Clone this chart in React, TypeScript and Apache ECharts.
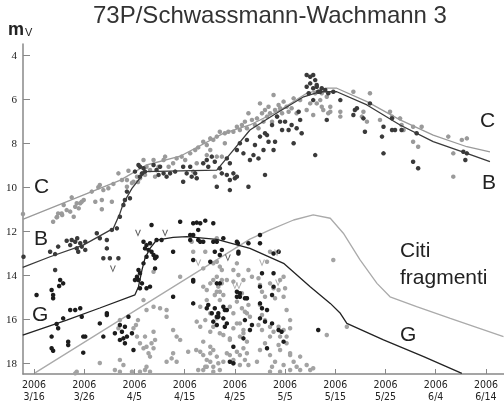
import React, { useEffect, useRef } from "react";
import * as echarts from "echarts";

// x = days since 2006-03-16, y = visual magnitude
const xTickDays = [0, 10, 20, 30, 40, 50, 60, 70, 80, 90];
const xTickLabels = ["3/16", "3/26", "4/5", "4/15", "4/25", "5/5", "5/15", "5/25", "6/4", "6/14"];
const yTicks = [4, 6, 8, 10, 12, 14, 16, 18];

const obsC = [
  [-2.2, 11.23], [4.6, 11.36], [5.6, 11.27], [7.5, 10.47], [5.9, 10.82], [6.5, 11.05], [5.5, 11.2], [7.2, 11.12],
  [8.2, 10.9], [9.2, 10.74], [9.9, 10.59], [8.9, 10.97], [7.9, 11.35], [4.5, 11.38], [11.5, 10.21], [12.8, 10.01],
  [13.8, 10.14], [14.8, 10.06], [15.8, 9.86], [16.8, 9.38], [17.5, 9.68], [18.5, 9.99], [18.8, 9.26], [19.8, 9.76],
  [20.5, 9.53], [21.1, 9.6], [21.8, 9.38], [13.5, 10.59], [13.5, 11.01], [15.5, 10.67], [3.8, 11.58], [4.8, 11.2],
  [8.5, 10.74], [9.5, 10.67], [12.2, 10.67], [13.1, 9.91], [18.5, 9.68], [19.5, 9.82], [20.7, 9.77],
  [21.8, 8.77], [22.4, 9.08], [23.8, 8.77], [24.8, 9.08], [25.8, 8.77], [26.1, 8.62], [26.8, 9.08], [27.7, 8.92],
  [28.4, 8.7], [29.4, 8.62], [30.1, 8.77], [31.1, 8.47], [32.1, 8.32], [32.7, 8.2], [33.7, 7.94], [34.4, 8.09],
  [35.1, 7.79], [35.7, 7.86], [36.4, 7.71], [37.0, 7.49], [38.0, 7.56], [38.7, 7.49], [39.7, 7.49], [40.4, 7.26],
  [41.0, 7.41], [41.4, 7.18], [42.0, 7.03], [42.4, 7.33], [42.7, 6.65], [43.4, 6.95], [44.0, 7.18], [44.4, 6.88],
  [44.7, 7.33], [45.0, 6.2], [45.4, 6.65], [45.7, 7.03], [46.0, 6.5], [46.4, 6.8], [46.7, 6.35], [47.0, 6.65],
  [47.4, 7.03], [47.7, 5.82], [48.0, 6.5], [48.4, 6.8], [48.7, 6.27], [49.0, 6.42], [49.4, 6.65], [49.7, 6.12],
  [50.3, 6.35], [50.7, 6.58], [51.3, 6.42], [51.7, 5.97], [52.3, 6.65], [53.0, 6.05], [54.3, 6.5], [55.0, 6.2],
  [55.6, 6.73], [56.3, 6.2], [57.0, 6.05], [57.6, 6.5], [59.0, 6.35], [59.0, 6.58], [56.0, 5.74], [57.3, 5.74],
  [35.1, 8.32], [34.4, 8.55], [32.4, 8.92], [36.4, 8.62], [38.0, 8.01], [37.4, 8.62], [36.0, 9.53], [31.7, 9.3],
  [24.1, 9.53], [23.1, 9.23], [22.1, 9.45],
  [63.6, 5.67], [66.9, 5.74], [65.6, 6.58], [68.9, 6.95], [70.9, 6.58], [71.3, 6.8], [72.9, 6.88], [73.2, 7.18],
  [75.5, 7.26], [76.5, 8.17], [75.5, 7.94], [82.5, 7.71], [83.5, 9.53], [85.2, 7.86], [86.2, 7.79], [83.5, 8.47],
  [58.3, 5.9], [57.3, 6.35], [58.6, 6.65], [61.0, 6.58], [61.0, 6.8], [65.3, 6.8], [66.3, 7.03], [73.6, 7.41],
  [77.2, 7.26],
];

const obsB = [
  [-2.1, 13.17], [3.2, 12.94], [4.2, 13.05], [4.8, 12.71], [6.5, 12.44], [7.2, 12.64], [7.5, 12.41], [8.2, 12.49],
  [8.6, 12.33], [9.2, 12.56], [9.5, 12.71], [8.5, 12.79], [10.2, 12.49], [8.8, 12.94], [10.2, 12.86], [12.5, 12.1],
  [13.1, 12.33], [14.5, 12.41], [14.5, 12.79], [13.8, 13.24], [15.1, 13.24], [16.8, 13.24], [15.5, 11.95], [16.5, 11.88],
  [4.2, 13.77],
  [20.8, 9.0], [20.1, 9.3], [21.1, 9.53], [21.8, 9.15], [23.8, 9.0], [24.4, 9.23], [25.1, 9.08], [25.8, 9.38],
  [26.4, 9.53], [29.7, 9.76], [18.5, 10.21], [18.1, 10.59], [17.8, 10.82], [19.1, 10.51], [17.1, 11.35], [30.4, 9.38],
  [31.4, 9.53],
  [21.1, 9.08], [21.5, 9.38], [22.1, 9.3], [24.8, 9.45], [27.1, 9.38], [28.1, 9.3], [29.7, 9.08], [31.1, 9.08],
  [32.1, 9.38], [32.4, 9.6], [33.7, 8.92], [34.4, 8.77], [34.7, 9.08], [35.4, 8.62], [36.0, 8.85], [37.0, 9.15],
  [38.4, 8.7], [39.0, 8.92], [37.4, 9.38], [38.4, 9.45], [39.0, 9.68], [40.0, 9.6], [39.7, 9.38], [40.4, 8.32],
  [41.0, 8.01], [41.7, 8.47], [42.4, 7.86], [43.0, 8.77], [43.7, 8.55], [44.0, 8.09], [44.7, 8.7], [45.0, 7.71],
  [45.7, 8.32], [46.0, 7.56], [46.7, 7.94], [47.4, 7.18], [47.7, 8.32], [48.0, 7.94], [48.4, 6.8], [49.0, 7.03],
  [49.4, 7.41], [50.0, 7.03], [50.7, 7.41], [51.3, 7.18], [51.7, 8.01], [52.7, 6.58], [53.0, 6.95], [53.3, 7.56],
  [46.4, 7.64], [52.3, 7.33], [54.3, 4.91], [55.0, 4.99], [55.6, 4.91], [54.3, 5.44], [54.7, 5.74], [55.0, 5.29],
  [55.6, 5.51], [56.0, 5.14], [56.3, 5.44], [56.6, 5.67], [57.3, 5.51], [58.0, 5.59], [55.6, 6.05], [56.0, 8.55],
  [36.4, 9.99], [40.4, 9.53], [42.7, 9.99], [46.0, 9.45], [39.0, 10.14],
  [58.3, 6.95], [63.9, 6.5], [64.3, 6.42], [65.6, 6.88], [65.9, 7.49], [66.9, 6.2], [69.6, 7.26], [69.3, 7.71],
  [69.6, 8.47], [71.3, 7.41], [71.9, 7.41], [73.2, 7.41], [75.5, 8.85], [76.5, 9.15], [76.2, 7.56], [85.5, 8.4],
  [86.2, 8.47], [85.9, 8.77], [61.0, 6.05], [59.6, 5.67], [58.6, 5.74], [57.0, 5.67], [56.3, 5.36], [71.3, 6.88],
  [63.6, 6.73],
];

const obsG = [
  [0.5, 14.91], [3.5, 14.68], [3.8, 14.91], [3.8, 15.06], [5.2, 14.23], [5.8, 14.38], [5.0, 14.5], [-2.3, 16.35],
  [3.5, 16.8], [3.5, 17.33], [3.8, 17.44], [4.8, 16.42], [4.5, 16.23], [5.8, 15.97], [6.8, 17.03], [6.8, 17.18],
  [7.2, 15.59], [8.2, 15.59], [9.2, 15.51], [9.8, 16.8], [10.2, 16.8], [9.8, 17.53], [9.5, 15.9], [13.1, 16.2],
  [13.8, 16.8], [14.5, 15.74], [14.5, 15.82], [16.1, 16.65], [17.1, 16.27], [17.5, 16.58], [17.8, 16.88], [18.1, 17.1],
  [17.1, 16.95], [18.5, 16.8], [19.5, 16.65], [19.8, 17.41], [18.8, 15.9], [18.1, 16.35],
  [20.1, 14.23], [20.5, 14.08], [20.8, 13.77], [21.1, 13.92], [20.8, 14.23], [21.5, 14.38], [21.8, 13.47], [22.4, 13.17],
  [22.1, 12.79], [22.4, 12.64], [22.8, 12.86], [23.1, 12.56], [23.4, 12.94], [23.8, 13.09], [24.1, 13.24], [24.4, 13.17],
  [23.4, 11.73], [21.8, 12.49], [24.4, 12.41], [24.1, 13.7], [23.1, 14.53], [21.1, 14.6], [22.4, 14.6], [25.4, 12.41],
  [27.7, 12.94], [29.1, 11.58], [31.7, 11.65], [32.4, 11.62], [33.1, 11.65], [34.1, 11.53], [35.7, 11.65], [32.7, 11.95],
  [31.1, 12.18], [31.7, 12.18], [32.7, 12.41], [33.1, 12.49], [31.1, 12.41], [35.7, 12.49], [36.4, 12.49], [37.4, 12.86],
  [31.7, 13.32], [31.7, 14.23], [27.7, 14.99], [31.7, 15.29], [34.4, 15.51], [35.4, 15.74], [36.4, 15.9], [36.7, 15.74],
  [38.0, 15.59], [36.4, 16.27], [38.4, 16.2], [41.0, 14.83], [40.4, 14.99], [42.4, 15.06], [40.6, 12.56], [40.7, 12.94],
  [39.0, 17.94],
  [33.7, 12.49], [37.7, 12.33], [40.4, 12.49], [42.7, 12.56], [45.0, 12.18], [45.0, 12.56], [36.0, 12.94], [37.0, 13.09],
  [40.7, 13.02], [35.1, 13.4], [45.4, 13.92], [47.7, 13.92], [31.7, 14.3], [36.4, 14.38], [37.0, 14.38], [40.4, 14.76],
  [41.0, 14.99], [42.0, 15.06], [45.0, 14.53], [45.0, 15.29], [45.4, 15.51], [46.4, 15.59], [34.7, 15.36], [36.0, 15.51],
  [37.7, 15.44], [38.4, 15.59], [36.7, 15.9], [37.7, 15.97], [35.7, 16.12], [38.0, 16.35], [42.0, 16.05], [43.4, 16.27],
  [43.0, 16.5], [41.7, 16.88], [45.0, 15.97], [46.0, 16.12], [47.4, 16.2], [48.7, 16.5], [49.7, 17.03], [39.7, 17.26],
  [46.4, 17.33], [56.6, 16.5], [39.7, 18.01],
  [47.7, 13.02], [48.7, 12.94], [47.7, 14.53], [47.4, 14.91], [49.3, 16.58],
];

const obsFrag = [
  [17.1, 16.05], [16.8, 16.42], [19.8, 16.42], [20.5, 16.8], [21.1, 17.1], [21.8, 17.33], [22.4, 17.26], [22.8, 17.56],
  [23.1, 17.71], [23.8, 17.33], [23.4, 17.1], [24.1, 16.95], [22.1, 16.8], [23.8, 16.58], [21.8, 15.14], [23.8, 15.44],
  [25.1, 15.51], [26.4, 15.9], [28.4, 16.8], [29.1, 16.95], [27.7, 17.56], [28.4, 17.94], [33.1, 17.49], [33.7, 17.64],
  [34.4, 17.86], [35.1, 17.56], [35.7, 17.41], [36.4, 17.71], [36.7, 18.01], [34.4, 18.17], [33.7, 18.32], [35.7, 18.4],
  [37.0, 18.32], [38.4, 17.56], [40.4, 17.49], [39.7, 17.86], [41.0, 18.09], [41.7, 17.33], [42.4, 17.56], [29.1, 14.08],
  [26.4, 15.59], [23.8, 13.85], [17.8, 18.09], [17.1, 18.4], [16.1, 18.32], [8.2, 18.47], [8.5, 18.4], [21.1, 18.4],
  [22.1, 18.32], [22.4, 18.17], [23.1, 18.4], [19.5, 18.4],
  [33.7, 14.53], [34.4, 14.68], [35.1, 14.38], [35.7, 14.23], [36.4, 14.08], [37.4, 14.23], [36.7, 14.53], [37.0, 14.76],
  [37.7, 14.91], [36.0, 14.91], [38.4, 14.23], [39.7, 14.3], [41.7, 14.23], [34.4, 15.14], [33.1, 15.44], [32.4, 16.12],
  [33.1, 16.35], [35.7, 16.35], [37.0, 16.65], [39.0, 16.88], [39.7, 16.42], [41.0, 16.2], [41.7, 16.65], [39.7, 15.74],
  [39.0, 15.44], [41.4, 15.51], [42.7, 15.36], [42.4, 15.74], [37.0, 13.62], [36.4, 13.4], [39.7, 13.77],
  [31.7, 12.94], [34.1, 12.94], [35.7, 13.47], [33.7, 13.7], [37.4, 13.77], [40.4, 13.47], [40.7, 14.0], [42.7, 13.77],
  [43.4, 14.08], [37.4, 14.38], [36.4, 14.76], [37.0, 15.14], [35.1, 15.74], [34.1, 16.05], [36.4, 15.97], [40.4, 15.21],
  [41.4, 14.83], [42.4, 15.06], [42.0, 15.67], [43.0, 15.9], [40.4, 16.2], [41.7, 16.5], [41.0, 16.8], [42.4, 17.03],
  [39.0, 16.95], [37.7, 16.73], [35.1, 16.58], [33.7, 17.03], [35.1, 17.26], [35.1, 17.94], [35.7, 18.17], [34.1, 18.17],
  [37.7, 17.94], [39.7, 18.01], [39.0, 17.64], [41.0, 17.64], [42.0, 17.86], [42.7, 18.09], [44.4, 17.94], [45.0, 17.41],
  [46.0, 17.1], [47.0, 17.64], [48.0, 17.94], [47.4, 18.17], [49.0, 17.41], [50.3, 17.1], [51.0, 17.64], [51.7, 17.94],
  [52.3, 18.17], [51.0, 18.32], [45.0, 15.36], [45.4, 15.82], [46.0, 16.05], [47.0, 16.35], [47.7, 16.58], [48.7, 16.35],
  [49.7, 16.5], [51.0, 16.42], [49.0, 16.8], [47.0, 16.8], [45.4, 16.5], [44.7, 16.27], [44.7, 14.15], [45.0, 14.45],
  [45.4, 14.76], [46.0, 14.99], [47.0, 14.38], [47.7, 14.6], [48.0, 15.06], [48.7, 14.68], [49.0, 14.23], [49.7, 14.99],
  [50.0, 14.6], [46.4, 13.4], [47.0, 12.94], [48.7, 12.94], [49.7, 14.08], [50.3, 15.59], [51.0, 16.05], [54.3, 18.09],
  [55.0, 18.32], [53.0, 17.71], [36.4, 12.33], [31.4, 12.49],
  [59.6, 13.32], [58.3, 16.73], [62.3, 16.35], [50.3, 16.8], [51.0, 17.56], [53.0, 18.32], [55.6, 18.24], [49.7, 18.09],
  [47.0, 18.4], [49.0, 18.4], [48.7, 17.18],
  [13.1, 18.0], [17.1, 17.86], [20.3, 16.27], [20.7, 16.05], [22.4, 15.59], [26.4, 17.94], [27.4, 17.79], [27.7, 16.5],
  [30.7, 17.49], [32.3, 17.41], [32.7, 18.32],
];

// upper-limit ("v") marks
const limDark = [[20.7, 12.1], [26.1, 12.1], [15.7, 13.73], [38.6, 13.23]];
const limGray = [[32.7, 13.45], [40.0, 14.5], [40.8, 14.5], [45.4, 13.45], [48.4, 13.0], [48.6, 14.36]];

// model light curves
const lineC = [
  [-2.25, 11.47], [11.5, 10.21], [17.1, 9.7], [22.4, 9.0], [29.1, 8.6], [37.7, 7.56], [43.0, 7.18], [49.0, 6.5],
  [54.3, 5.74], [58.3, 5.51], [60.3, 5.51], [66.3, 6.12], [72.9, 6.95], [79.5, 7.64], [86.2, 8.17], [90.8, 8.4],
];
const lineB = [
  [-2.25, 13.65], [3.2, 13.17], [9.8, 12.64], [15.8, 11.88], [17.1, 11.2], [17.8, 10.74], [19.5, 10.06], [22.1, 9.3],
  [36.4, 9.23], [39.7, 8.32], [43.0, 7.41], [47.7, 6.73], [53.7, 5.9], [57.0, 5.67], [60.3, 5.67], [66.3, 6.27],
  [72.9, 7.18], [79.5, 7.94], [86.2, 8.47], [90.8, 8.85],
];
const lineG = [
  [-2.25, 16.73], [6.5, 16.05], [13.1, 15.5], [20.1, 14.9], [20.8, 14.53], [21.5, 13.77], [22.1, 13.24], [23.1, 12.79],
  [24.4, 12.41], [27.7, 12.29], [30.4, 12.26], [36.4, 12.38], [43.0, 12.79], [49.7, 13.47], [55.0, 14.53], [59.0, 15.29],
  [61.0, 15.74], [62.3, 16.2], [69.6, 16.95], [77.6, 17.71], [85.2, 18.47],
];
const lineFrag = [
  [0.2, 18.45], [43.0, 12.37], [47.0, 11.95], [51.7, 11.5], [55.6, 11.27], [59.0, 11.42], [61.6, 12.1], [64.9, 13.3],
  [68.3, 14.38], [70.9, 14.99], [76.2, 15.44], [82.9, 15.97], [93.5, 16.8],
];

const SANS = "'Liberation Sans', Arial, sans-serif";
const VMARK = "path://M0,0L2,0L5,7L8,0L10,0L5,10Z";

export default function App() {
  const ref = useRef<HTMLDivElement>(null);
  useEffect(() => {
    if (!ref.current) return;
    const chart = echarts.init(ref.current, undefined, { renderer: "svg" });
    const dot = (name: string, data: number[][], color: string, z: number) => ({
      name, type: "scatter", data, symbol: "circle", symbolSize: 4.5, z,
      itemStyle: { color, opacity: 1 }, silent: true,
    });
    const curve = (name: string, data: number[][], color: string, z: number) => ({
      name, type: "line", data, symbol: "none", showSymbol: false, z, silent: true,
      lineStyle: { color, width: 1.3 },
    });
    const label = (text: string, x: number, y: number) => ({
      type: "text", x, y,
      style: { text, fill: "#222", font: `21px ${SANS}`, textVerticalAlign: "top", textAlign: "left" },
    });
    chart.setOption({
      animation: false,
      title: {
        text: "73P/Schwassmann-Wachmann 3", left: 93, top: 2, padding: 0,
        textStyle: { fontFamily: SANS, fontSize: 24, fontWeight: "normal", color: "#333" },
      },
      grid: { left: 23, right: 0, top: 44, bottom: 32 },
      xAxis: {
        type: "value", min: -2.2, max: 93.6,
        splitLine: { show: false },
        axisLine: { show: true, onZero: false, lineStyle: { color: "#888", width: 1.5 } },
        axisTick: { show: true, inside: true, length: 5, customValues: xTickDays, lineStyle: { color: "#888", width: 1 } },
        axisLabel: {
          customValues: xTickDays,
          formatter: (v: number) => "2006\n" + xTickLabels[Math.round(v / 10)],
          fontFamily: "'Liberation Sans Narrow', 'DejaVu Sans Condensed', sans-serif",
          fontSize: 10.5, lineHeight: 12, color: "#222", margin: 4,
        },
      },
      yAxis: {
        type: "value", inverse: true, min: 3.5, max: 18.5,
        splitLine: { show: false },
        axisLine: { show: true, onZero: false, lineStyle: { color: "#888", width: 1.5 } },
        axisTick: { show: true, inside: true, length: 7, customValues: yTicks, lineStyle: { color: "#888", width: 1 } },
        axisLabel: {
          customValues: yTicks,
          fontFamily: "'Liberation Serif', serif", fontSize: 11, color: "#222", margin: 6,
        },
      },
      graphic: [
        { type: "text", x: 8, y: 20, style: { text: "m", fill: "#222", font: `bold 18px ${SANS}`, textVerticalAlign: "top" } },
        { type: "text", x: 25, y: 26, style: { text: "V", fill: "#222", font: `11px ${SANS}`, textVerticalAlign: "top" } },
        label("C", 34, 175),
        label("B", 34, 227),
        label("G", 32, 303),
        label("C", 480, 109),
        label("B", 482, 171),
        label("Citi", 400, 239),
        label("fragmenti", 400, 266),
        label("G", 400, 323),
      ],
      series: [
        curve("Citi fragmenti model", lineFrag, "#aaaaaa", 1),
        curve("C model", lineC, "#9a9a9a", 1),
        dot("fragments", obsFrag, "#a3a3a3", 2),
        dot("C", obsC, "#9a9a9a", 2),
        dot("B", obsB, "#3a3a3a", 3),
        dot("G", obsG, "#1c1c1c", 3),
        curve("B model", lineB, "#3a3a3a", 4),
        curve("G model", lineG, "#222222", 4),
        {
          name: "limits dark", type: "scatter", data: limDark, symbol: VMARK, symbolSize: [6, 7], z: 3,
          itemStyle: { color: "#333" }, silent: true,
        },
        {
          name: "limits gray", type: "scatter", data: limGray, symbol: VMARK, symbolSize: [6, 7], z: 3,
          itemStyle: { color: "#999" }, silent: true,
        },
      ],
    });
    return () => chart.dispose();
  }, []);
  return <div ref={ref} style={{ position: "fixed", left: 0, top: 0, width: 504, height: 406 }} />;
}
